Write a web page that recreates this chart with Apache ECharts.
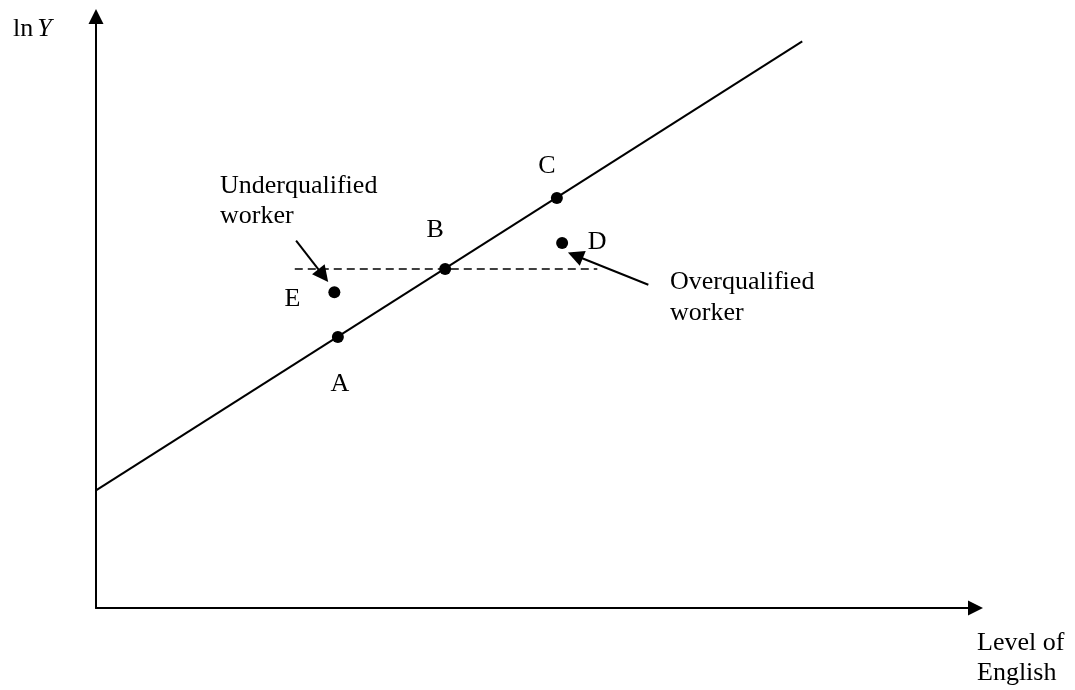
<!DOCTYPE html>
<html>
<head>
<meta charset="utf-8">
<script src="https://cdn.jsdelivr.net/npm/echarts@6/dist/echarts.min.js"></script>
<style>
  html, body { margin: 0; padding: 0; background: #fff; }
  #main { width: 1075px; height: 690px; }
</style>
</head>
<body>
<div id="main"></div>
<script>
// data (axis units 0..100 on both axes, no ticks shown)
var earningsLine = [[0, 19.9], [80.3, 95.8]];
var wageLevel = [[22.6, 57.3], [57.0, 57.3]];
var pointNames = ['A', 'B', 'C', 'D', 'E'];
var pointX = [27.5, 39.7, 52.4, 53.0, 27.1];
var pointY = [45.8, 57.3, 69.3, 61.7, 53.4];
// annotation arrows: [start, end]
var underArrow = [[22.75, 62.1], [25.84, 56.2]];
var overArrow = [[62.8, 54.65], [54.5, 59.6]];

var font = 'Liberation Serif, Times New Roman, serif';
var labelOffsets = [[2, 47], [-10, -39], [-10, -32], [35, -1], [-42, 7]];

var myChart = echarts.init(document.getElementById('main'));

var points = pointNames.map(function (n, i) {
    return {
        name: n,
        value: [pointX[i], pointY[i]],
        label: { offset: labelOffsets[i] }
    };
});

var hiddenAxis = {
    type: 'value',
    min: 0,
    max: 100,
    axisTick: { show: false },
    axisLabel: { show: false },
    splitLine: { show: false },
    axisLine: {
        show: true,
        symbol: ['none', 'triangle'],
        symbolSize: [15, 15],
        lineStyle: { color: '#000', width: 2 }
    }
};

var option = {
    backgroundColor: '#fff',
    animation: false,
    grid: { left: 96, right: 99.5, top: 16.5, bottom: 82 },
    xAxis: hiddenAxis,
    yAxis: Object.assign({}, hiddenAxis),
    graphic: [
        {
            type: 'text', x: 13, y: 16,
            style: {
                text: '{n|ln}{i|Y}',
                rich: {
                    n: { font: '26px ' + font, fill: '#000' },
                    i: { font: 'italic 26px ' + font, fill: '#000', padding: [0, 0, 0, 4] }
                },
                font: '26px ' + font, fill: '#000'
            }
        },
        {
            type: 'text', x: 220, y: 171,
            style: { text: 'Underqualified\nworker', font: '26px ' + font, lineHeight: 30, fill: '#000' }
        },
        {
            type: 'text', x: 670, y: 267,
            style: { text: 'Overqualified\nworker', font: '26px ' + font, lineHeight: 31, fill: '#000' }
        },
        {
            type: 'text', x: 977, y: 628,
            style: { text: 'Level of\nEnglish', font: '26px ' + font, lineHeight: 30, fill: '#000' }
        }
    ],
    series: [
        {
            type: 'line',
            data: earningsLine,
            showSymbol: false,
            lineStyle: { color: '#000', width: 2 }
        },
        {
            type: 'line',
            data: wageLevel,
            showSymbol: false,
            lineStyle: { color: '#000', width: 1.5, type: [8, 5] }
        },
        {
            type: 'lines',
            coordinateSystem: 'cartesian2d',
            symbol: ['none', 'triangle'],
            symbolSize: [14, 16],
            lineStyle: { color: '#000', width: 2, opacity: 1, curveness: 0 },
            data: [{ coords: underArrow }, { coords: overArrow }]
        },
        {
            type: 'scatter',
            data: points,
            symbol: 'circle',
            symbolSize: 12,
            itemStyle: { color: '#000', opacity: 1 },
            label: {
                show: true,
                position: 'inside',
                formatter: '{b}',
                color: '#000',
                fontFamily: font,
                fontSize: 26,
                align: 'center',
                verticalAlign: 'middle'
            }
        }
    ]
};
myChart.setOption(option);
</script>
</body>
</html>
